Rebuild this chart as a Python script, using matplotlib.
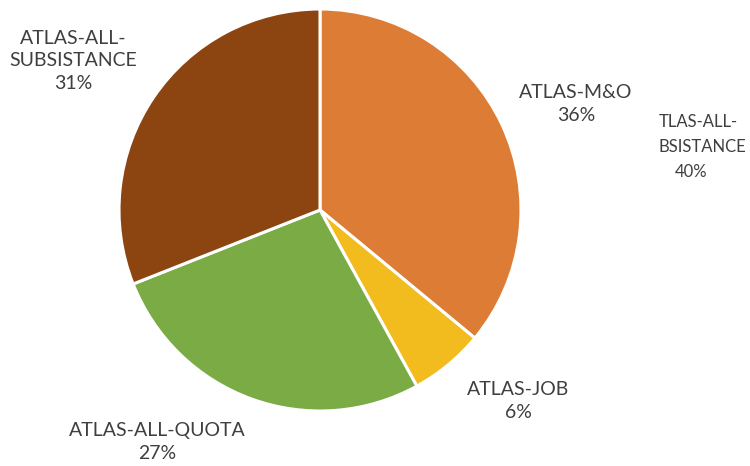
import matplotlib.pyplot as plt

# slice data, clockwise from 12 o'clock
names = ["ATLAS-M&O", "ATLAS-JOB", "ATLAS-ALL-QUOTA", "ATLAS-ALL-\nSUBSISTANCE"]
shares = [36, 6, 27, 31]
colors = ["#DD7D35", "#F2BC1F", "#7AAB45", "#8C4511"]

# label centres in image pixels (x, y from top)
label_pos = [(576, 104), (518, 401), (157, 442), (73, 61)]

plt.rcParams["font.family"] = ["Lato", "DejaVu Sans"]

fig = plt.figure(figsize=(7.5, 4.66), dpi=100)
ax = fig.add_axes([0, 0, 1, 1])

ax.pie(shares, colors=colors, startangle=90, counterclock=False,
       center=(320, 466 - 210), radius=201, frame=True,
       wedgeprops=dict(edgecolor="white", linewidth=2.2))
ax.set_xlim(0, 750)
ax.set_ylim(0, 466)
ax.set_aspect("equal")
ax.axis("off")

for name, share, (x, y) in zip(names, shares, label_pos):
    ax.text(x, 466 - y, "%s\n%d%%" % (name, share), ha="center", va="center",
            fontsize=14, color="#3F3F3F", linespacing=1.4)

# stray, partly cut label at the right edge
ax.text(659, 466 - 122, "TLAS-ALL-", ha="left", va="center", fontsize=12, color="#3F3F3F")
ax.text(658, 466 - 147, "BSISTANCE", ha="left", va="center", fontsize=12, color="#3F3F3F")
ax.text(675, 466 - 172, "40%", ha="left", va="center", fontsize=12, color="#3F3F3F")

fig.savefig("out.png", dpi=100)
